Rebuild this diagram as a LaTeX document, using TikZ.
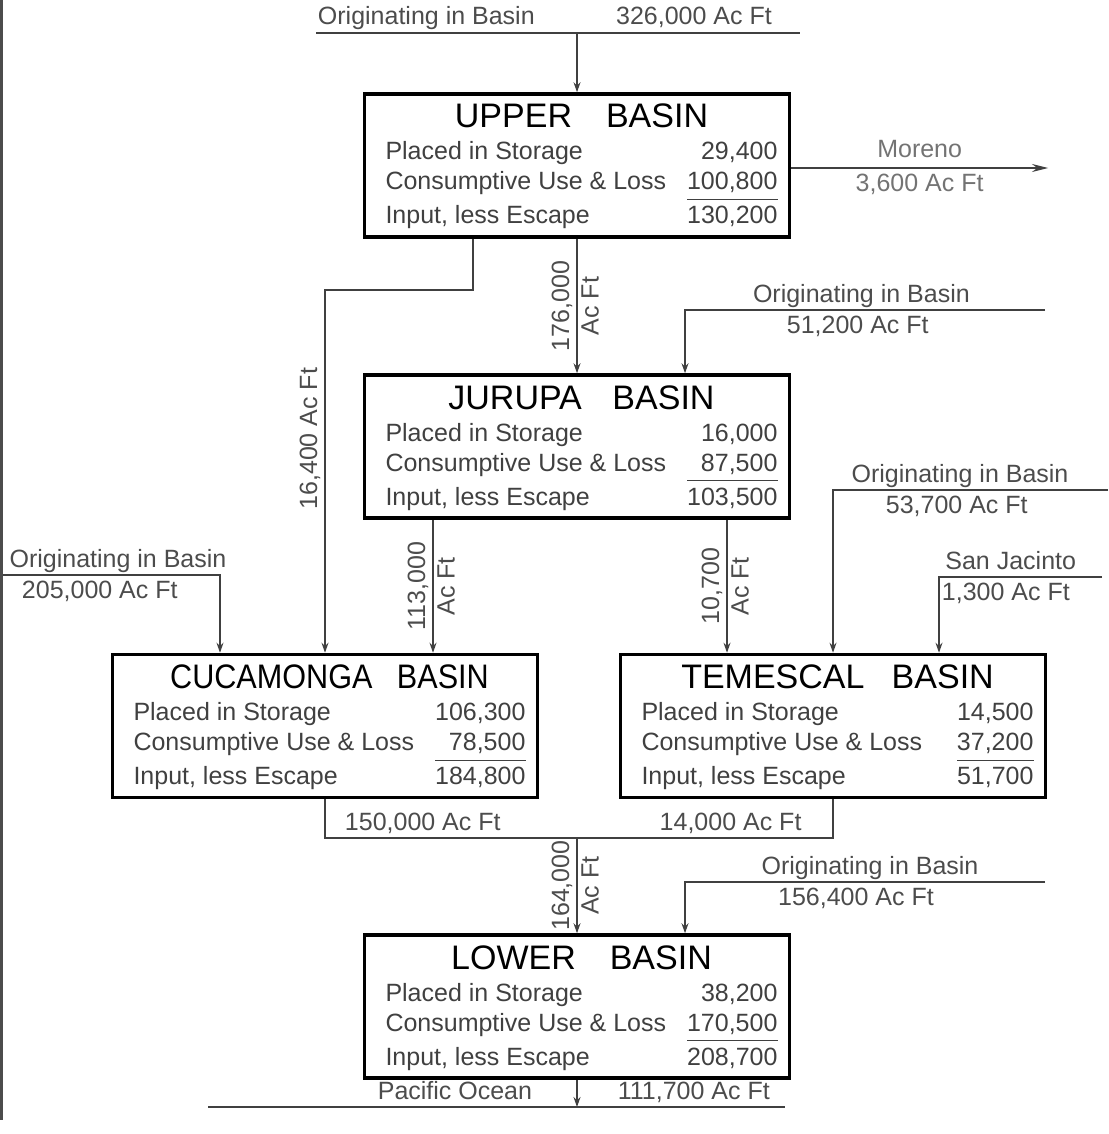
\documentclass[tikz,border=0pt]{standalone}
\usepackage{fontspec}
\setmainfont{Liberation Sans}
\usetikzlibrary{arrows.meta}

\newcommand{\basinbody}[4]{%
  \hspace*{4.5pt}%
  \begin{tabular*}{196pt}{@{}l@{\extracolsep{\fill}}r@{}}
    \multicolumn{2}{@{}c@{}}{\rule{0pt}{15pt}\color{black}\fontsize{17}{20}\selectfont #1}\\[1pt]
    Placed in Storage & #2\\
    Consumptive Use \& Loss & #3\\ \cline{2-2}
    \rule{0pt}{12.5pt}Input, less Escape & #4
  \end{tabular*}}

\tikzset{
  basin/.style={draw, line width=1.8pt, minimum width=212.5pt, minimum height=71.5pt,
    inner sep=0pt, text=black!75, font=\fontsize{12.5}{15}\selectfont},
  feed/.style={line width=0.6pt, draw=black!75},
  flow/.style={feed, -{Stealth[length=5pt,width=3.5pt]}},
  bigflow/.style={feed, -{Stealth[length=8pt,width=4pt]}},
  lbl/.style={font=\fontsize{12.5}{15}\selectfont, text=black!70, inner sep=1pt,
    text height=9.5pt, text depth=2.7pt},
  vlbl/.style={lbl, rotate=90},
}

\begin{document}
\begin{tikzpicture}[x=0.5pt,y=-0.5pt]
    \useasboundingbox (0,0) rectangle (1108,1134);

    \node (upper) [basin] at (577,165.5) {\basinbody{UPPER\hspace{1em}BASIN}{29,400}{100,800}{130,200}};
    \node (jurupa) [basin] at (577,446.5) {\basinbody{JURUPA\hspace{0.9em}BASIN}{16,000}{87,500}{103,500}};
    \node (cucamonga) [basin] at (325,726) {\basinbody{\scalebox{0.9}[1]{CUCAMONGA\hspace{0.8em}BASIN}}{106,300}{78,500}{184,800}};
    \node (temescal) [basin] at (833,726) {\basinbody{TEMESCAL\hspace{0.8em}BASIN}{14,500}{37,200}{51,700}};
    \node (lower) [basin] at (577,1006.5) {\basinbody{LOWER\hspace{1em}BASIN}{38,200}{170,500}{208,700}};

    \coordinate (topw) at (316,33);
    \coordinate (tope) at (800,33);
    \coordinate (moreno) at (1048,168);
    \coordinate (jsrc) at (1045,310);
    \coordinate (tsrc) at (1108,490);
    \coordinate (sanjac) at (1102,577);
    \coordinate (csrc) at (3,575);
    \coordinate (ucbend) at (473,290);
    \coordinate (merge) at (577,838);
    \coordinate (lsrc) at (1045,882);
    \coordinate (pacw) at (208,1107);
    \coordinate (pace) at (785,1107);

    % page edge
    \draw[line width=1.2pt, black!70] (1.5,0) -- (1.5,1120);

    \draw[feed] (topw) -- node[lbl, above, pos=0.228] {Originating in Basin}
        node[lbl, above, pos=0.781] {326,000 Ac Ft} (tope);
    \draw[flow] (upper.north |- topw) -- (upper.north);

    \draw[bigflow] (upper.east |- moreno) -- node[lbl, above=1pt, text=black!55] {Moreno}
        node[lbl, below=1pt, text=black!55] {3,600 Ac Ft} (moreno);

    \draw[flow] (upper.south) -- node[vlbl, anchor=south] {176,000}
        node[vlbl, anchor=north] {Ac Ft} (jurupa.north);
    \draw[flow] (upper.south -| ucbend) -- (ucbend) -| node[vlbl, anchor=south, pos=0.705] {16,400 Ac Ft}
        (cucamonga.north);

    \draw[flow] (jsrc) -| node[lbl, above, pos=0.255] {Originating in Basin}
        node[lbl, below=1pt, pos=0.26] {51,200 Ac Ft} ([xshift=54pt]jurupa.north);

    \draw[flow] ([xshift=-72pt]jurupa.south) -- node[vlbl, anchor=south] {113,000}
        node[vlbl, anchor=north] {Ac Ft} ([xshift=-72pt]jurupa.south |- cucamonga.north);
    \draw[flow] ([xshift=75pt]jurupa.south) -- node[vlbl, anchor=south] {10,700}
        node[vlbl, anchor=north] {Ac Ft} ([xshift=75pt]jurupa.south |- temescal.north);

    \draw[flow] (csrc) -| node[lbl, above, pos=0.265] {Originating in Basin}
        node[lbl, below=1pt, pos=0.223] {205,000 Ac Ft} ([xshift=-52.5pt]cucamonga.north);
    \draw[flow] (tsrc) -| node[lbl, above, pos=0.269] {Originating in Basin}
        node[lbl, below=1pt, pos=0.275] {53,700 Ac Ft} (temescal.north);
    \draw[flow] (sanjac) -| node[lbl, above, pos=0.28] {San Jacinto}
        node[lbl, below=1pt, pos=0.295] {1,300 Ac Ft} ([xshift=53pt]temescal.north);

    \draw[feed] (cucamonga.south) |- node[lbl, above, pos=0.694] {150,000 Ac Ft} (merge);
    \draw[feed] (temescal.south) |- node[lbl, above, pos=0.7] {14,000 Ac Ft} (merge);
    \draw[flow] (merge) -- node[vlbl, anchor=south] {164,000}
        node[vlbl, anchor=north] {Ac Ft} (lower.north);

    \draw[flow] (lsrc) -| node[lbl, above, pos=0.243] {Originating in Basin}
        node[lbl, below=1pt, pos=0.2625] {156,400 Ac Ft} ([xshift=54pt]lower.north);

    \draw[feed] (pacw) -- node[lbl, above, pos=0.428] {Pacific Ocean}
        node[lbl, above, pos=0.842] {111,700 Ac Ft} (pace);
    \draw[flow] (lower.south) -- (lower.south |- pacw);
\end{tikzpicture}
\end{document}
